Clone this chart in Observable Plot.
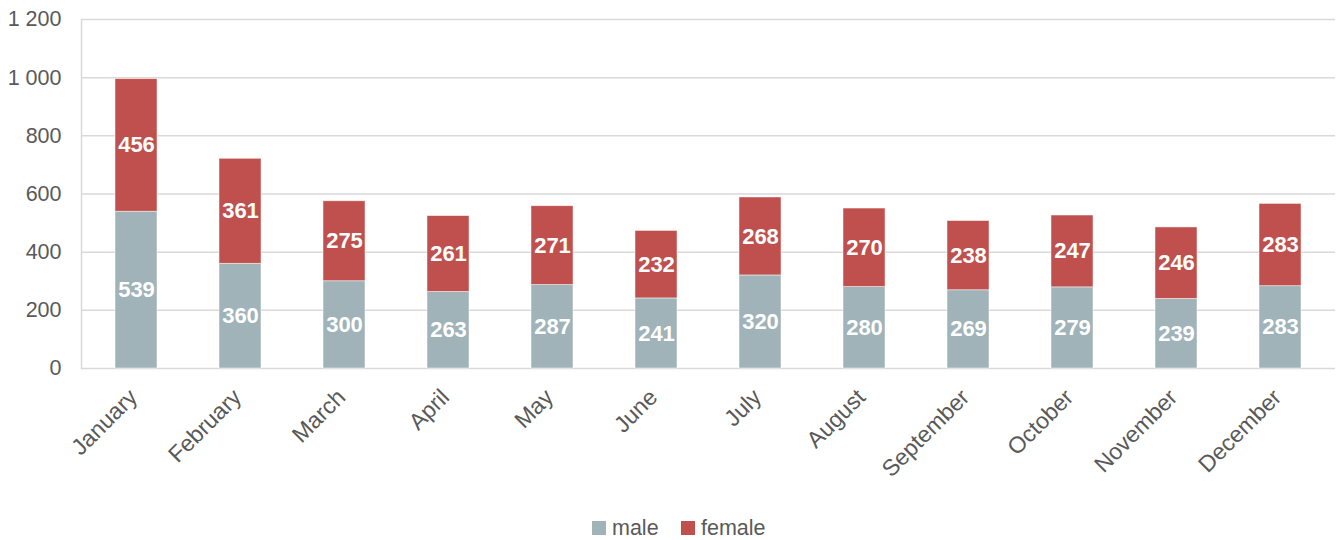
<!DOCTYPE html>
<html><head><meta charset="utf-8">
<script src="https://cdn.jsdelivr.net/npm/d3@7"></script>
<script src="https://cdn.jsdelivr.net/npm/@observablehq/plot@0.6"></script>
<style>
body{margin:0;background:#fff;font-family:"Liberation Sans",Arial,sans-serif;}
#legend{position:relative;height:30px;font-size:21.5px;color:#595959;}
#legend div{position:absolute;top:3px;display:flex;align-items:center;height:30px;}
#legend span.sw{display:inline-block;width:14px;height:14px;margin-right:6px;}
</style></head>
<body><div id="chart"></div><div id="legend"></div>
<script>
const months = ["January","February","March","April","May","June","July","August","September","October","November","December"];
const male = [539,360,300,263,287,241,320,280,269,279,239,283];
const female = [456,361,275,261,271,232,268,270,238,247,246,283];
const series = ["male","female"];
const colors = ["#a0b3b9","#c0504d"];
const yTicks = [0,200,400,600,800,1000,1200];

const data = [];
months.forEach((m,i)=>{
  data.push({month:m, sex:"male", value:male[i]});
  data.push({month:m, sex:"female", value:female[i]});
});
const fmt = d3.formatLocale({decimal:".",thousands:" ",grouping:[3],currency:["",""]}).format(",");

const chart = Plot.plot({
  width:1339, height:510,
  marginLeft:81, marginRight:4, marginTop:19, marginBottom:142,
  style:{fontFamily:"'Liberation Sans',Arial,sans-serif", fontSize:"21px", color:"#595959", background:"#fff", overflow:"visible"},
  x:{domain:months, paddingInner:0.6, paddingOuter:0.3, label:null},
  y:{domain:[0,1200], label:null},
  color:{domain:series, range:colors},
  marks:[
    Plot.ruleY(yTicks,{stroke:"#d9d9d9", strokeWidth:1.5}),
    Plot.frame({anchor:"left", stroke:"#d9d9d9", strokeWidth:1.5}),
    Plot.barY(data, Plot.stackY({x:"month", y:"value", fill:"sex", order:series, stroke:"#ffffff", strokeOpacity:0.6, strokeWidth:0.8})),
    Plot.text(data, Plot.stackY({x:"month", y:"value", z:"sex", order:series, text:d=>String(d.value), fill:"white", fontWeight:"bold", fontSize:22})),
    Plot.axisY({ticks:yTicks, tickFormat:fmt, tickSize:0, tickPadding:20, fill:"#595959", fontSize:21.5}),
    Plot.axisX({tickSize:0, tickRotate:-45, tickPadding:25, dx:-3, fill:"#595959", fontSize:23})
  ]
});
document.getElementById("chart").append(chart);
const lg = document.getElementById("legend");
const lefts = [592, 681];
series.forEach((s,i)=>{
  const d = document.createElement("div");
  d.style.left = lefts[i] + "px";
  d.innerHTML = `<span class="sw" style="background:${colors[i]}"></span>${s}`;
  lg.append(d);
});
</script></body></html>
